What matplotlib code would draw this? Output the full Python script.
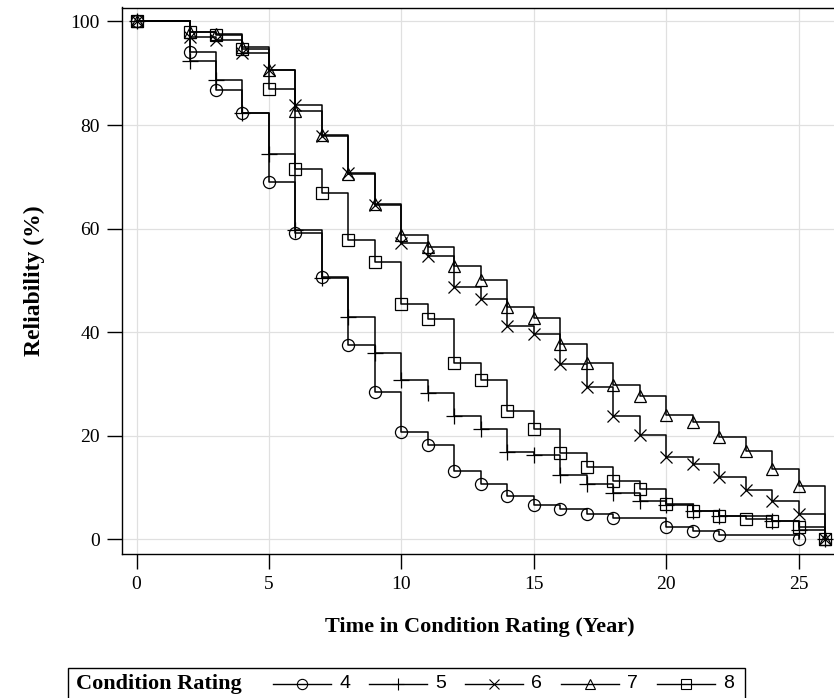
import matplotlib
matplotlib.use("Agg")
import matplotlib.pyplot as plt
from matplotlib.lines import Line2D
from matplotlib.patches import Rectangle

# Reliability (%) by years spent in each condition rating
ratings = ["4", "5", "6", "7", "8"]

t4 = [0, 2, 3, 4, 5, 6, 7, 8, 9, 10, 11, 12, 13, 14, 15, 16, 17, 18, 20, 21, 22, 25]
r4 = [100, 94.2, 86.7, 82.4, 69.1, 59.2, 50.7, 37.5, 28.4, 20.8, 18.3, 13.3, 10.8, 8.4,
      6.7, 5.8, 5.0, 4.2, 2.5, 1.7, 0.8, 0.0]

t5 = [0, 2, 3, 4, 5, 6, 7, 8, 9, 10, 11, 12, 13, 14, 15, 16, 17, 18, 19, 20, 21, 22,
      24, 25, 26]
r5 = [100, 92.3, 88.8, 82.4, 74.5, 59.7, 50.5, 42.9, 36.0, 30.7, 28.2, 23.9, 21.4, 16.9,
      16.4, 12.5, 10.8, 9.0, 7.4, 6.6, 5.5, 4.6, 3.6, 1.8, 0.0]

t6 = [0, 2, 3, 4, 5, 6, 7, 8, 9, 10, 11, 12, 13, 14, 15, 16, 17, 18, 19, 20, 21, 22,
      23, 24, 25, 26]
r6 = [100, 97.0, 96.5, 94.0, 90.7, 83.8, 77.9, 70.8, 64.5, 57.3, 54.7, 48.8, 46.5, 41.3,
      39.6, 33.8, 29.5, 23.9, 20.1, 16.0, 14.6, 12.0, 9.5, 7.5, 4.9, 0.0]

t7 = [0, 2, 3, 4, 5, 6, 7, 8, 9, 10, 11, 12, 13, 14, 15, 16, 17, 18, 19, 20, 21, 22,
      23, 24, 25, 26]
r7 = [100, 98.0, 97.5, 95.0, 90.7, 82.7, 78.0, 70.6, 64.7, 58.7, 56.4, 52.8, 50.0, 44.9,
      42.8, 37.8, 34.1, 29.9, 27.7, 24.0, 22.7, 19.7, 17.0, 13.7, 10.4, 0.0]

t8 = [0, 2, 3, 4, 5, 6, 7, 8, 9, 10, 11, 12, 13, 14, 15, 16, 17, 18, 19, 20, 21, 22,
      23, 24, 25, 26]
r8 = [100, 98.0, 97.3, 94.7, 87.0, 71.6, 66.9, 57.9, 53.5, 45.4, 42.5, 34.0, 30.7, 24.8,
      21.4, 16.7, 14.0, 11.3, 9.7, 6.8, 5.5, 4.6, 3.9, 3.6, 2.5, 0.0]

xticks = [0, 5, 10, 15, 20, 25]
yticks = [0, 20, 40, 60, 80, 100]

series = [(t4, r4), (t5, r5), (t6, r6), (t7, r7), (t8, r8)]
markers = ["o", "+", "x", "^", "s"]
msizes = [8.7, 11, 9, 8.7, 8.7]

W, H = 834, 698
fig = plt.figure(figsize=(W / 100, H / 100), dpi=100)
ax = fig.add_axes([122 / W, 1 - 554 / H, (837 - 122) / W, (554 - 7.5) / H])

for (t, r), m, ms in zip(series, markers, msizes):
    ax.plot(t, r, drawstyle="steps-post", color="black", lw=1.1,
            marker=m, ms=ms, mfc="none", mec="black", mew=0.9)

ax.set_xlim(-0.55, 26.45)
ax.set_ylim(-2.8, 102.7)
ax.set_xticks(xticks)
ax.set_yticks(yticks)
ax.grid(True, color="#e0e0e0", lw=0.9)
ax.set_axisbelow(True)
ax.tick_params(direction="out", length=11, width=1.0, color="black", pad=5,
               labelsize=14)
for lab in ax.get_xticklabels() + ax.get_yticklabels():
    lab.set_family("Liberation Serif")
for s in ax.spines.values():
    s.set_linewidth(1.0)

ax.set_xlabel("Time in Condition Rating (Year)", family="Liberation Serif",
              fontweight="bold", fontsize=16, labelpad=17)
ax.set_ylabel("Reliability (%)", family="Liberation Serif",
              fontweight="bold", fontsize=17, labelpad=18)

# legend strip along the bottom edge
def fx(px):
    return px / W

def fy(py):
    return 1 - py / H

box_l, box_r, box_t = 68, 745, 668
fig.add_artist(Rectangle((fx(box_l), fy(710)), fx(box_r) - fx(box_l), fy(box_t) - fy(710),
                         transform=fig.transFigure, fill=False, ec="black", lw=1.0))
yc = 684
fig.text(fx(76), fy(yc), "Condition Rating", family="Liberation Serif",
         fontweight="bold", fontsize=16, va="center", ha="left")
x_start = 273
step = 96
seg = 58
for i, (lab, m, ms) in enumerate(zip(ratings, markers, msizes)):
    x0 = x_start + i * step
    fig.add_artist(Line2D([fx(x0), fx(x0 + seg)], [fy(yc), fy(yc)],
                          transform=fig.transFigure, color="black", lw=1.0))
    fig.add_artist(Line2D([fx(x0 + seg / 2)], [fy(yc)], transform=fig.transFigure,
                          marker=m, ms=ms * 0.85, mfc="none", mec="black", mew=0.8))
    fig.text(fx(x0 + seg + 8), fy(yc), lab, family=["Liberation Sans Narrow", "Liberation Sans"],
             fontsize=14, va="center", ha="left")

fig.savefig("out.png", dpi=100)
